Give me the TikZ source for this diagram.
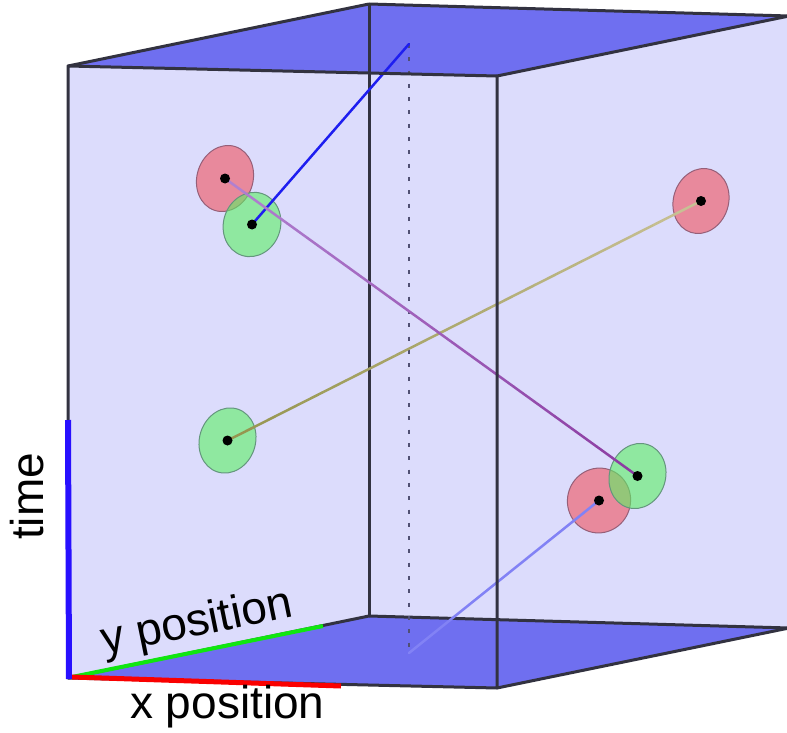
\documentclass[tikz,border=0pt]{standalone}
\usepackage{fontspec}
\setmainfont{Liberation Sans}
\usetikzlibrary{shapes.geometric,calc}
\definecolor{lav}{RGB}{220,220,252}
\definecolor{topc}{RGB}{111,111,240}
\definecolor{edgec}{RGB}{50,50,64}
\definecolor{dotc}{RGB}{80,80,115}
\definecolor{redb}{RGB}{240,83,92}
\definecolor{redline}{RGB}{150,95,120}
\definecolor{greenb}{RGB}{93,240,99}
\definecolor{greenline}{RGB}{100,150,125}
\definecolor{purpA}{RGB}{176,128,208}
\definecolor{purpB}{RGB}{138,58,160}
\definecolor{oliveA}{RGB}{150,150,80}
\definecolor{oliveB}{RGB}{202,194,152}
\definecolor{blueline}{RGB}{30,30,240}
\definecolor{lightblue}{RGB}{130,130,245}
\definecolor{timeax}{RGB}{40,16,255}
\definecolor{yax}{RGB}{16,230,16}
\definecolor{xax}{RGB}{250,0,0}
\tikzset{
  edgeline/.style={draw=edgec, line width=3pt, line join=round},
  redblob/.style={ellipse, fill=redb, fill opacity=0.6, draw=redline, line width=1pt, inner sep=0pt},
  greenblob/.style={ellipse, fill=greenb, fill opacity=0.6, draw=greenline, line width=1pt, inner sep=0pt},
  dot/.style={circle, fill=black, inner sep=0pt, minimum size=10pt},
  track/.style={line width=2.5pt, line cap=round},
  axislabel/.style={font=\fontsize{46}{52}\selectfont, inner sep=0pt}
}
\begin{document}
\begin{tikzpicture}[x=1pt,y=-1pt]
\useasboundingbox (0,0) rectangle (787,733);
\clip (0,0) rectangle (787,733);
% cube corners
\coordinate (F1) at (68,66);
\coordinate (F2) at (497,76);
\coordinate (F3) at (497,688);
\coordinate (F4) at (68,678);
\coordinate (B1) at (369,4);
\coordinate (B2) at (789,16);
\coordinate (B3) at (789,628);
\coordinate (B4) at (369,616);
% faces
\fill[lav] (F1)--(B1)--(B2)--(B3)--(F3)--(F4)--cycle;
\fill[topc] (F1)--(B1)--(B2)--(F2)--cycle;
\fill[topc] (F4)--(B4)--(B3)--(F3)--cycle;
% back edges
\draw[edgeline] (B1)--(B4);
\draw[edgeline] (B1)--(B2)--(B3)--(B4);
% dotted vertical
\coordinate (P1) at (409,44);
\coordinate (P2) at (409,653);
\draw[dotc, line width=2pt, dash pattern=on 4pt off 9.3pt] (P1)--(P2);
% blobs
\node[redblob, minimum width=56pt, minimum height=67pt, rotate=-18] (A) at (225,178.5) {};
\node[redblob, minimum width=55pt, minimum height=66pt, rotate=-18] (D) at (701,201) {};
\node[redblob, minimum width=63pt, minimum height=65pt, rotate=-18] (F) at (599,500.5) {};
\node[greenblob, minimum width=57pt, minimum height=65pt, rotate=-18] (B) at (252,224.5) {};
\node[greenblob, minimum width=56pt, minimum height=66pt, rotate=-18] (C) at (227.5,440.5) {};
\node[greenblob, minimum width=56pt, minimum height=66pt, rotate=-18] (E) at (637.5,476) {};
% tracks
\draw[track, blueline] (P1) -- (B.center);
\draw[track, lightblue] (P2) -- (F.center);
\foreach \i in {0,...,19}{
  \pgfmathsetmacro{\s}{\i/20}
  \pgfmathsetmacro{\t}{(\i+1)/20}
  \pgfmathtruncatemacro{\p}{100-\i*5}
  \draw[track, color=purpA!\p!purpB] ($(A.center)!\s!(E.center)$) -- ($(A.center)!\t!(E.center)$);
  \draw[track, color=oliveA!\p!oliveB] ($(C.center)!\s!(D.center)$) -- ($(C.center)!\t!(D.center)$);
}
% dots
\node[dot] (a) at (A.center) {};
\node[dot] (b) at (B.center) {};
\node[dot] (c) at (C.center) {};
\node[dot] (d) at (D.center) {};
\node[dot] (e) at (E.center) {};
\node[dot] (f) at (F.center) {};
% front and side edges
\draw[edgeline] (F1)--(B1);
\draw[edgeline] (F2)--(B2);
\draw[edgeline] (F3)--(B3);
\draw[edgeline] (F4)--(B4);
\draw[edgeline] (F1)--(F2)--(F3)--(F4)--cycle;
% axes
\coordinate (O) at (72,677);
\coordinate (Yend) at (323,626);
\coordinate (Xend) at (341,686);
\coordinate (Tend) at (68,420);
\draw[yax, line width=4pt] (O) -- (Yend);
\draw[xax, line width=5pt] (O) -- (Xend);
\draw[timeax, line width=6pt] (69,679) -- (Tend);
% labels
\node[axislabel, anchor=base west] (xl) at (130,718) {x position};
\node[axislabel, anchor=base west, rotate=11.5] (yl) at (104,655) {y position};
\node[axislabel, anchor=base west, rotate=90] (tl) at (43,540) {time};
\end{tikzpicture}
\end{document}
